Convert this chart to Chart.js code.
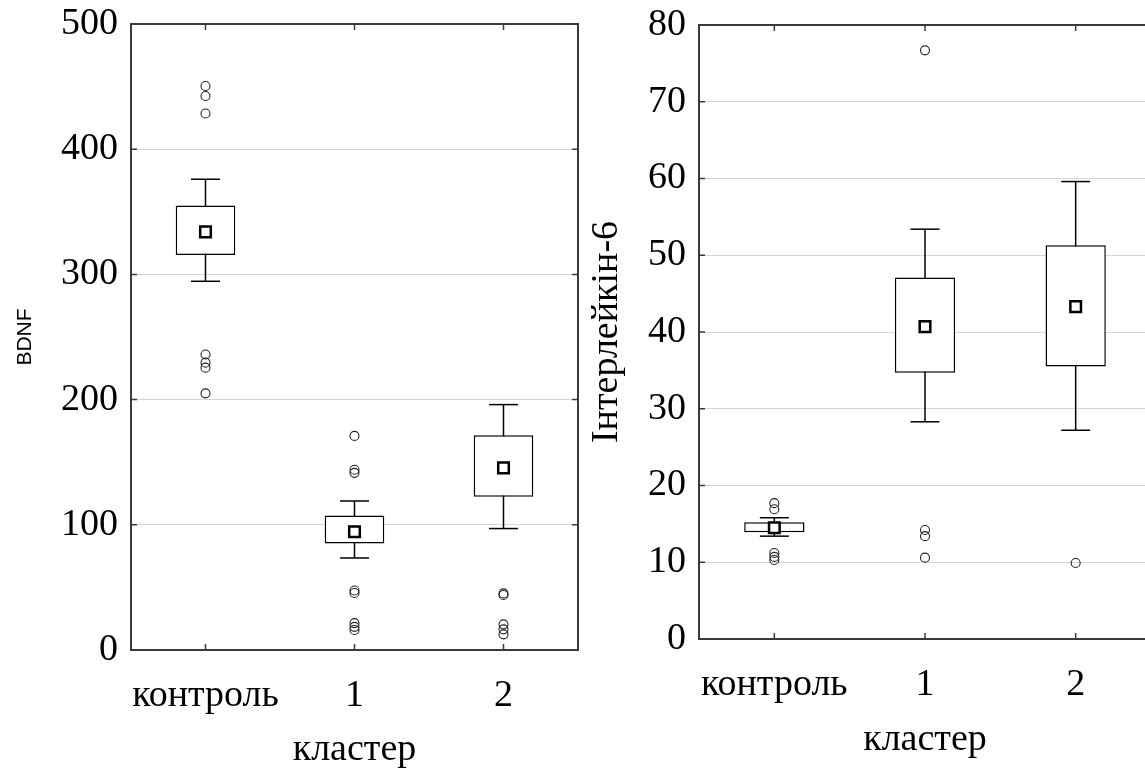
<!DOCTYPE html>
<html>
<head>
<meta charset="utf-8">
<script src="https://cdn.jsdelivr.net/npm/chart.js@4.4.1/dist/chart.umd.min.js"></script>
<style>
  html, body { margin: 0; padding: 0; background: #fff; overflow: hidden; width: 1145px; height: 769px; }
  .wrap { position: absolute; top: 0; height: 769px; }
  #wrapL { left: 0; width: 590px; }
  #wrapR { left: 580px; width: 580px; }
</style>
</head>
<body>
<div class="wrap" id="wrapL"><canvas id="chartL"></canvas></div>
<div class="wrap" id="wrapR"><canvas id="chartR"></canvas></div>
<script>
const categories = ["контроль", "1", "2"];

// BDNF
const bdnfQ1 = [315.5, 85, 122.5];
const bdnfQ3 = [355, 107.5, 171.5];
const bdnfLow = [294.5, 73.5, 97];
const bdnfHigh = [376, 119, 196];
const bdnfMid = [334, 94.5, 145.5];
const bdnfOutliers = [
  [450.5, 442.5, 428.5, 236, 229.5, 225.5, 205],
  [171, 144, 141.5, 47.5, 45.5, 21.5, 18.5, 16],
  [45.2, 43.9, 20.5, 16.5, 12.5]
];
const bdnfTicks = [0, 100, 200, 300, 400, 500];

// Інтерлейкін-6
const ilQ1 = [13.9, 34.7, 35.5];
const ilQ3 = [15.2, 47.1, 51.3];
const ilLow = [13.4, 28.3, 27.2];
const ilHigh = [15.8, 53.4, 59.6];
const ilMid = [14.5, 40.7, 43.3];
const ilOutliers = [
  [17.7, 16.9, 11.2, 10.7, 10.3],
  [76.7, 14.2, 13.4, 10.6],
  [9.9]
];
const ilTicks = [0, 10, 20, 30, 40, 50, 60, 70, 80];

const serif = "'Liberation Serif', 'Times New Roman', serif";
const sans = "'Liberation Sans', Arial, sans-serif";

// top/right frame and inward tick marks
const frame = {
  id: "frame",
  afterDraw(chart) {
    const { ctx, chartArea: a, scales: { x, y } } = chart;
    ctx.save();
    ctx.strokeStyle = "#3a3a3a";
    ctx.lineWidth = 2;
    ctx.beginPath();
    ctx.moveTo(a.left, a.top);
    ctx.lineTo(a.right, a.top);
    ctx.lineTo(a.right, a.bottom);
    ctx.stroke();
    ctx.lineWidth = 1.5;
    ctx.beginPath();
    x.ticks.forEach((t, i) => {
      const px = x.getPixelForTick(i);
      ctx.moveTo(px, a.top); ctx.lineTo(px, a.top + 6);
      ctx.moveTo(px, a.bottom); ctx.lineTo(px, a.bottom - 6);
    });
    y.ticks.forEach((t, i) => {
      const py = y.getPixelForTick(i);
      ctx.moveTo(a.left, py); ctx.lineTo(a.left + 6, py);
      ctx.moveTo(a.right, py); ctx.lineTo(a.right - 6, py);
    });
    ctx.stroke();
    ctx.restore();
  }
};

function makeChart(id, d) {
  const stems = [];
  const caps = [];
  const outs = [];
  categories.forEach((c, i) => {
    stems.push({ x: c, y: d.low[i] }, { x: c, y: d.high[i] }, { x: c, y: null });
    caps.push({ x: c, y: d.low[i] }, { x: c, y: d.high[i] });
    d.out[i].forEach(v => outs.push({ x: c, y: v }));
  });

  return new Chart(document.getElementById(id), {
    data: {
      labels: categories,
      datasets: [
        {
          type: "line", data: stems, order: 4,
          borderColor: "#000", borderWidth: 1.5, pointRadius: 0, spanGaps: false
        },
        {
          type: "bar", data: categories.map((c, i) => [d.q1[i], d.q3[i]]), order: 3,
          backgroundColor: "#fff", borderColor: "#000", borderWidth: 1.5, borderSkipped: false,
          categoryPercentage: 1, barPercentage: 0.4
        },
        {
          type: "line", data: caps, order: 2, showLine: false,
          pointStyle: "line", pointRadius: 14.5, pointBorderWidth: 1.5, pointBorderColor: "#000"
        },
        {
          type: "line", data: outs, order: 1, showLine: false,
          pointStyle: "circle", pointRadius: 4.5, pointBorderWidth: 1.1,
          pointBorderColor: "#222", pointBackgroundColor: "rgba(0,0,0,0)"
        },
        {
          type: "line", data: categories.map((c, i) => ({ x: c, y: d.mid[i] })), order: 0, showLine: false,
          pointStyle: "rect", pointRadius: 7.5, pointBorderWidth: 2.5,
          pointBorderColor: "#000", pointBackgroundColor: "#fff"
        }
      ]
    },
    options: {
      responsive: true,
      maintainAspectRatio: false,
      animation: false,
      events: [],
      layout: { padding: d.padding, autoPadding: false },
      plugins: { legend: { display: false }, tooltip: { enabled: false } },
      scales: {
        x: {
          type: "category",
          offset: true,
          grid: { display: false },
          border: { display: true, color: "#3a3a3a", width: 2 },
          ticks: { color: "#000", padding: d.xPad, maxRotation: 0, autoSkip: false, font: { family: serif, size: 38 } },
          title: { display: true, text: "кластер", color: "#000", padding: { top: 0, bottom: d.titlePad }, font: { family: serif, size: 38 } },
          afterFit: s => { s.height = d.xHeight; s.paddingLeft = 0; s.paddingRight = 0; }
        },
        y: {
          min: d.ticks[0],
          max: d.ticks[d.ticks.length - 1],
          afterBuildTicks: s => { s.ticks = d.ticks.map(v => ({ value: v })); },
          grid: { color: "#d6d6d6", lineWidth: 1, drawTicks: false },
          border: { display: true, color: "#3a3a3a", width: 2 },
          ticks: { color: "#000", padding: 13, font: { family: serif, size: 38 } },
          title: { display: true, text: d.yTitle, color: "#000", padding: { top: d.yTitlePad, bottom: 0 }, font: d.yTitleFont },
          afterFit: s => { s.width = d.yWidth; s.paddingTop = 0; s.paddingBottom = 0; }
        }
      }
    },
    plugins: [frame]
  });
}

makeChart("chartL", {
  q1: bdnfQ1, q3: bdnfQ3, low: bdnfLow, high: bdnfHigh, mid: bdnfMid, out: bdnfOutliers, ticks: bdnfTicks,
  yTitle: "BDNF", yTitleFont: { family: sans, size: 21 }, yTitlePad: 13,
  yWidth: 131, xHeight: 119, xPad: 15, titlePad: -4,
  padding: { top: 24, right: 12, bottom: 0, left: 0 }
});

makeChart("chartR", {
  q1: ilQ1, q3: ilQ3, low: ilLow, high: ilHigh, mid: ilMid, out: ilOutliers, ticks: ilTicks,
  yTitle: "Інтерлейкін-6", yTitleFont: { family: serif, size: 38 }, yTitlePad: 4,
  yWidth: 119, xHeight: 130, xPad: 15, titlePad: 6,
  padding: { top: 25, right: 9, bottom: 0, left: 0 }
});
</script>
</body>
</html>
